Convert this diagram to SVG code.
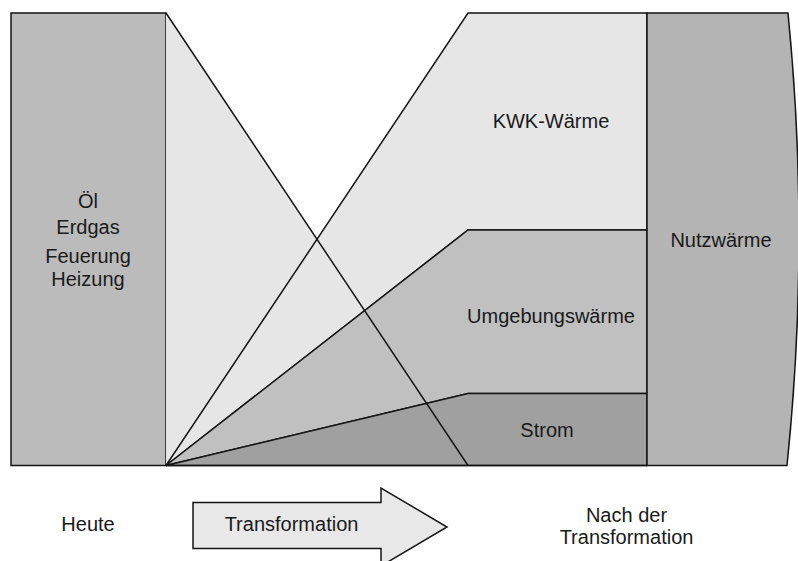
<svg xmlns="http://www.w3.org/2000/svg" width="798" height="561" viewBox="0 0 798 561">
<style>
.ln{stroke:#151515;stroke-width:1.5;stroke-linejoin:miter}
.t{font-family:"Liberation Sans",Arial,sans-serif;font-size:20px;fill:#1a1a1a;text-anchor:middle}
</style>
<rect width="798" height="561" fill="#ffffff"/>
<g id="heute-box">
<rect x="11" y="13" width="155" height="452.5" fill="#bbbbbb" class="ln"/>
<text class="t" x="88" y="208">Öl</text>
<text class="t" x="88" y="234">Erdgas</text>
<text class="t" x="88" y="263">Feuerung</text>
<text class="t" x="88" y="286">Heizung</text>
</g>
<g id="alt-dreieck">
<polygon points="166,13 468,465.5 166,465.5" fill="#e6e6e6"/>
</g>
<g id="kwk-waerme">
<polygon points="166,465.5 468,13 647,13 647,230 468,230" fill="#e6e6e6" class="ln"/>
<text class="t" x="551" y="128">KWK-Wärme</text>
</g>
<g id="umgebungswaerme">
<polygon points="166,465.5 468,230 647,230 647,393.5 468,393.5" fill="#c0c0c0" class="ln"/>
<text class="t" x="551" y="323">Umgebungswärme</text>
</g>
<g id="strom">
<polygon points="166,465.5 468,393.5 647,393.5 647,465.5" fill="#a0a0a0" class="ln"/>
<text class="t" x="547" y="437">Strom</text>
</g>
<g id="connectors">
<line x1="166" y1="13" x2="468" y2="465.5" class="ln"/>
<line x1="166" y1="465.5" x2="647" y2="465.5" class="ln"/>
</g>
<g id="nutzwaerme">
<path d="M647,13 L788,13 Q810.5,239 787,465.5 L647,465.5 Z" fill="#b4b4b4" class="ln"/>
<text class="t" x="721" y="247">Nutzwärme</text>
</g>
<g id="heute-label">
<text class="t" x="88" y="530.5">Heute</text>
</g>
<g id="transformation-pfeil">
<polygon points="193,502.5 381,502.5 381,488 447,527 381,566 381,548.5 193,548.5" fill="#e8e8e8" class="ln"/>
<text class="t" x="291.5" y="531">Transformation</text>
</g>
<g id="nach-label">
<text class="t" x="626.5" y="521.5">Nach der</text>
<text class="t" x="626.5" y="543.5">Transformation</text>
</g>
</svg>
